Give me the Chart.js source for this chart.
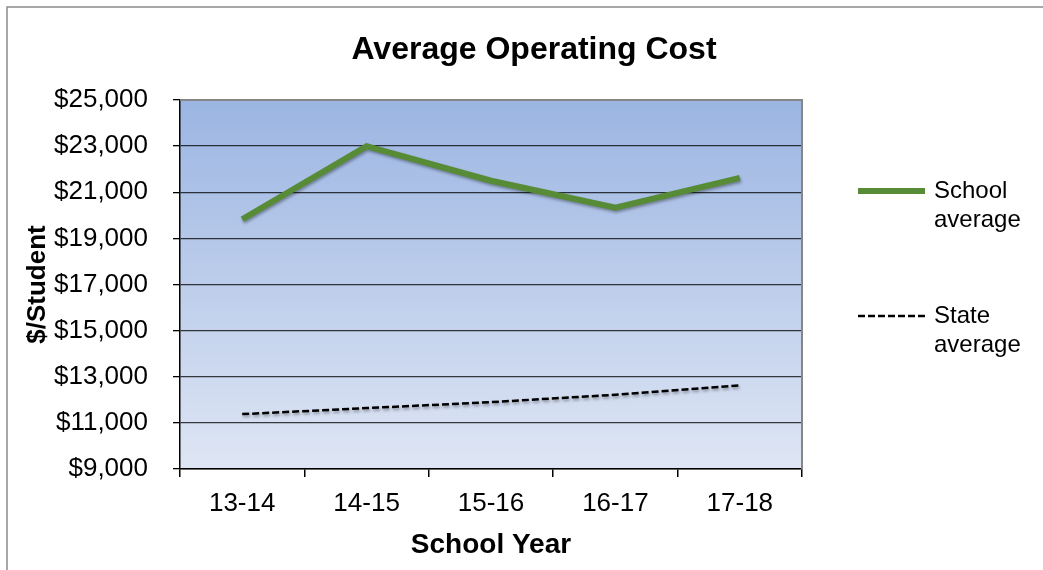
<!DOCTYPE html>
<html>
<head>
<meta charset="utf-8">
<script src="https://cdn.jsdelivr.net/npm/chart.js@4/dist/chart.umd.min.js"></script>
<style>
  body { margin: 0; background: #fff; }
</style>
</head>
<body>
<canvas id="costChart" width="1043" height="570"></canvas>
<script>
const chartTitle = "Average Operating Cost";
const years = ["13-14", "14-15", "15-16", "16-17", "17-18"];
const schoolAvg = [19830, 23000, 21500, 20330, 21620];
const stateAvg = [11380, 11640, 11900, 12220, 12630];
const yTicks = [9000, 11000, 13000, 15000, 17000, 19000, 21000, 23000, 25000];

const FONT = "'Liberation Sans', Arial, sans-serif";

// plot background gradient + borders, outer frame, title, legend
const decor = {
  id: "decor",
  beforeDraw(chart) {
    const { ctx, chartArea: a } = chart;
    const g = ctx.createLinearGradient(0, a.top, 0, a.bottom);
    g.addColorStop(0, "#9bb5e2");
    g.addColorStop(1, "#dfe6f4");
    ctx.save();
    ctx.fillStyle = g;
    ctx.fillRect(a.left, a.top, a.right - a.left, a.bottom - a.top);
    ctx.restore();
  },
  beforeDatasetDraw(chart) {
    const ctx = chart.ctx;
    ctx.save();
    ctx.shadowColor = "rgba(0,0,0,0.35)";
    ctx.shadowBlur = 3;
    ctx.shadowOffsetY = 2;
    ctx.shadowOffsetX = 1;
  },
  afterDatasetDraw(chart) {
    chart.ctx.restore();
  },
  afterDraw(chart) {
    const { ctx, chartArea: a } = chart;
    ctx.save();
    // gray top/right edge of the plot
    ctx.strokeStyle = "#868686";
    ctx.lineWidth = 2;
    ctx.beginPath();
    ctx.moveTo(a.left, a.top);
    ctx.lineTo(a.right, a.top);
    ctx.lineTo(a.right, a.bottom);
    ctx.stroke();
    // outer frame
    ctx.strokeStyle = "#8a8a8a";
    ctx.lineWidth = 1.5;
    ctx.beginPath();
    ctx.moveTo(7, chart.height);
    ctx.lineTo(7, 7);
    ctx.lineTo(chart.width, 7);
    ctx.stroke();

    // title, centred on the whole frame
    ctx.fillStyle = "#000";
    ctx.font = "bold 32px " + FONT;
    ctx.textAlign = "center";
    ctx.textBaseline = "middle";
    ctx.fillText(chartTitle, 534, 50);

    // legend
    const x0 = a.right + 56;
    const rows = [191, 316];
    ctx.font = "24px " + FONT;
    ctx.textAlign = "left";
    chart.data.datasets.forEach((ds, i) => {
      const y = rows[i];
      ctx.strokeStyle = ds.borderColor;
      ctx.lineWidth = ds.borderWidth;
      ctx.setLineDash(ds.borderDash || []);
      ctx.beginPath();
      ctx.moveTo(x0, y);
      ctx.lineTo(x0 + 67, y);
      ctx.stroke();
      ctx.setLineDash([]);
      ds.label.split(" ").forEach((w, j) => {
        ctx.fillText(w, x0 + 76, y + j * 29);
      });
    });
    ctx.restore();
  }
};

const data = {
  labels: years,
  datasets: [
    {
      label: "School average",
      data: schoolAvg,
      borderColor: "#578b36",
      borderWidth: 6,
      pointRadius: 0,
    },
    {
      label: "State average",
      data: stateAvg,
      borderColor: "#000",
      borderWidth: 2.5,
      borderDash: [7, 3],
      pointRadius: 0,
    },
  ],
};

const config = {
  type: "line",
  data: data,
  plugins: [decor],
  options: {
    responsive: false,
    animation: false,
    layout: { padding: { left: 0, right: 241, top: 100, bottom: 0 } },
    plugins: {
      legend: { display: false },
      tooltip: { enabled: false },
      title: { display: false },
    },
    scales: {
      x: {
        offset: true,
        grid: {
          offset: true,
          drawOnChartArea: false,
          tickLength: 8,
          color: "#000",
          lineWidth: 1.5,
        },
        border: { color: "#000", width: 1.5 },
        ticks: {
          color: "#000",
          font: { family: FONT, size: 26 },
          padding: 11,
        },
        title: {
          display: true,
          text: "School Year",
          color: "#000",
          font: { family: FONT, size: 28, weight: "bold" },
          padding: { top: 0, bottom: 8 },
        },
        afterFit(scale) { scale.height = 101; },
      },
      y: {
        min: 9000,
        max: 25000,
        afterBuildTicks(scale) { scale.ticks = yTicks.map(v => ({ value: v })); },
        grid: {
          color: (c) => (c.tick && c.tick.value === 25000 ? "#868686" : "rgba(0,0,0,0.75)"),
          tickColor: "#000",
          lineWidth: 1.3,
          tickLength: 7,
        },
        border: { color: "#000", width: 1.5 },
        ticks: {
          color: "#000",
          font: { family: FONT, size: 26 },
          padding: 25,
          callback: (v) => "$" + v.toLocaleString("en-US"),
        },
        title: {
          display: true,
          text: "$/Student",
          color: "#000",
          font: { family: FONT, size: 26, weight: "bold" },
          padding: { top: 22, bottom: 0 },
        },
        afterFit(scale) { scale.width = 180; },
      },
    },
  },
};

const costChart = new Chart(document.getElementById("costChart"), config);
</script>
</body>
</html>
